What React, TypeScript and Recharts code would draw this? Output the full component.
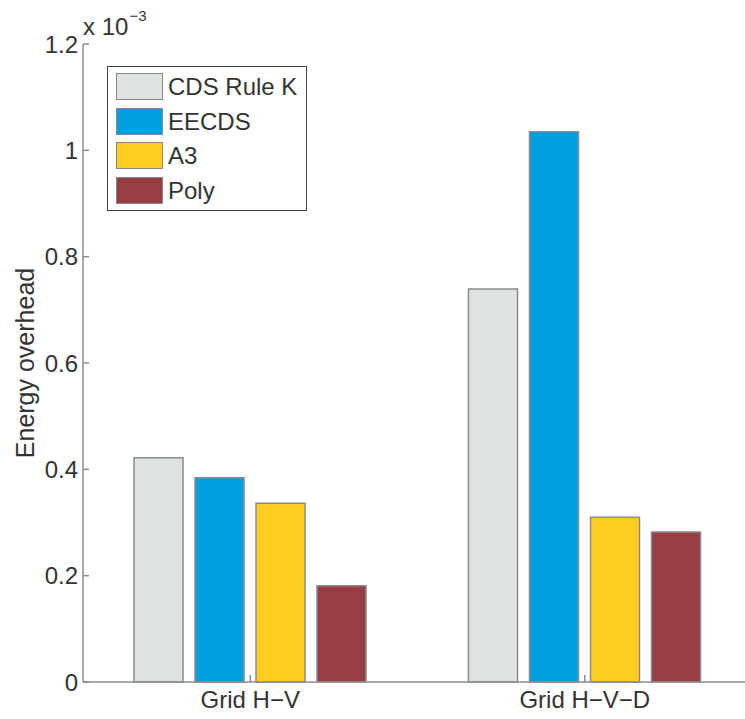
import React from "react";
import { BarChart, Bar, XAxis, YAxis, Legend, Label } from "recharts";

// Values in units of 10^-3 (as the axis shows "x 10^-3")
const categories = ["Grid H\u2212V", "Grid H\u2212V\u2212D"];
const cdsRuleK = [0.422, 0.739];
const eecds = [0.384, 1.035];
const a3 = [0.336, 0.31];
const poly = [0.181, 0.282];

const seriesNames = ["CDS Rule K", "EECDS", "A3", "Poly"];
const seriesColors = ["#DFE3DF", "#00A0E0", "#FFCC22", "#983D43"];
const seriesValues = [cdsRuleK, eecds, a3, poly];
const seriesKeys = ["cds", "eecds", "a3", "poly"];

const yTicks = [0, 0.2, 0.4, 0.6, 0.8, 1, 1.2];
const yTickLabels = ["0", "0.2", "0.4", "0.6", "0.8", "1", "1.2"];
const yLabel = "Energy overhead";
const exponentBase = "x 10";
const exponentPower = "\u22123";

const data = categories.map((c, i) => {
  const row: Record<string, any> = { category: c };
  seriesKeys.forEach((k, j) => {
    row[k] = seriesValues[j][i];
  });
  return row;
});

const FONT = "'Liberation Sans', Arial, Helvetica, sans-serif";
const TEXT = "#333333";
const AXIS = "#8c8c8c";

const EmptyTick = () => <g />;

const LegendBox = (props: any) => {
  const payload = ([...(props.payload || [])] as any[])
    .filter((p) => seriesNames.indexOf(p.value) >= 0)
    .sort((a, b) => seriesNames.indexOf(a.value) - seriesNames.indexOf(b.value));
  return (
    <div
      style={{
        border: "1px solid #444",
        background: "#fff",
        width: 198,
        height: 143,
        boxSizing: "content-box",
        fontFamily: FONT,
        position: "relative",
      }}
    >
      {payload.map((p, i) => (
        <div
          key={i}
          style={{
            position: "absolute",
            left: 8,
            top: 6 + i * 34.5,
            height: 27,
            display: "flex",
            alignItems: "center",
          }}
        >
          <div
            style={{
              width: 45,
              height: 25,
              background: p.color,
              border: "1px solid #888",
            }}
          />
          <span
            style={{
              marginLeft: 5,
              fontSize: 24,
              color: TEXT,
              lineHeight: "27px",
              whiteSpace: "nowrap",
            }}
          >
            {p.value}
          </span>
        </div>
      ))}
    </div>
  );
};

export default function App() {
  return (
    <div
      style={{
        position: "absolute",
        left: 0,
        top: 0,
        width: 745,
        height: 719,
        overflow: "hidden",
        background: "#fff",
      }}
    >
      <BarChart
        width={760}
        height={719}
        data={data}
        margin={{ top: 44, right: 8, bottom: 0, left: 0 }}
        barSize={49}
        barGap={12}
        accessibilityLayer={false}
      >
        <XAxis
          dataKey="category"
          type="category"
          height={37}
          axisLine={{ stroke: AXIS, strokeWidth: 1.5 }}
          tickLine={{ stroke: AXIS, strokeWidth: 1.5 }}
          tickSize={-7}
          tickMargin={16}
          tick={{ fill: TEXT, fontSize: 24, fontFamily: FONT }}
        />
        <XAxis
          xAxisId="top"
          dataKey="category"
          type="category"
          orientation="top"
          height={0}
          axisLine={{ stroke: AXIS, strokeWidth: 2 }}
          tickLine={{ stroke: AXIS, strokeWidth: 1.5 }}
          tickSize={-7}
          tick={EmptyTick}
        />
        <YAxis
          type="number"
          width={83}
          domain={[0, 1.2]}
          ticks={yTicks}
          interval={0}
          tickFormatter={(v: number) => yTickLabels[yTicks.indexOf(v)] ?? String(v)}
          axisLine={{ stroke: AXIS, strokeWidth: 1.5 }}
          tickLine={{ stroke: AXIS, strokeWidth: 1.5 }}
          tickSize={-6}
          tickMargin={11}
          tick={{ fill: TEXT, fontSize: 24, fontFamily: FONT }}
        >
          <Label
            value={yLabel}
            angle={-90}
            position="insideLeft"
            offset={25}
            style={{ textAnchor: "middle", fill: TEXT, fontSize: 25, fontFamily: FONT }}
          />
        </YAxis>
        <Legend
          layout="vertical"
          align="center"
          verticalAlign="middle"
          wrapperStyle={{ left: 107, top: 66, width: 200, height: 145 }}
          content={LegendBox}
        />
        {seriesKeys.map((k, j) => (
          <Bar
            key={k}
            dataKey={k}
            name={seriesNames[j]}
            fill={seriesColors[j]}
            stroke="#8a8a8a"
            strokeWidth={1.5}
            isAnimationActive={false}
          />
        ))}
        <Bar
          xAxisId="top"
          dataKey="topFrame"
          legendType="none"
          fill="none"
          isAnimationActive={false}
        />
      </BarChart>
      <svg
        width={745}
        height={719}
        style={{ position: "absolute", left: 0, top: 0, pointerEvents: "none" }}
      >
        <rect x={741} y={46} width={4} height={634} fill="#ffffff" />
        <text x={83} y={35} fill={TEXT} fontSize={24} fontFamily={FONT}>
          {exponentBase}
          <tspan dx={1} dy={-14} fontSize={15}>
            {exponentPower}
          </tspan>
        </text>
      </svg>
    </div>
  );
}
